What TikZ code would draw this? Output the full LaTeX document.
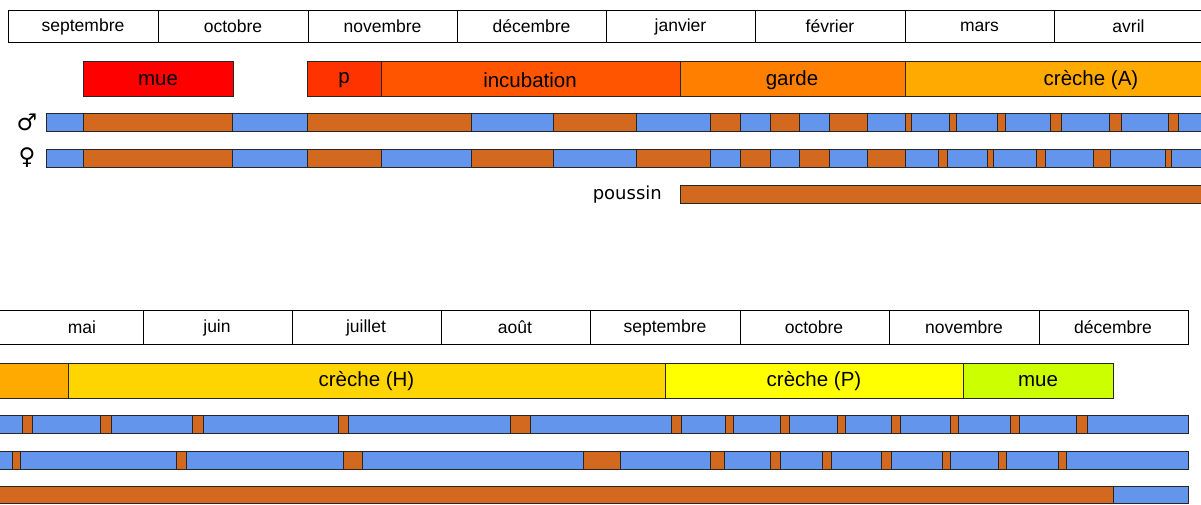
\documentclass[tikz,border=0pt]{standalone}
\usepackage{fontspec}
\setmainfont{Liberation Sans}
\newfontfamily\symfont{DejaVu Sans}
\definecolor{bleu}{HTML}{6495ED}
\definecolor{brun}{HTML}{D2691E}
\definecolor{rougeM}{HTML}{FF0000}
\definecolor{rougeP}{HTML}{FF3300}
\definecolor{orInc}{HTML}{FF5500}
\definecolor{orGar}{HTML}{FF8000}
\definecolor{crA}{HTML}{FFAA00}
\definecolor{crH}{HTML}{FFD500}
\definecolor{crP}{HTML}{FFFF00}
\definecolor{mueB}{HTML}{CCFF00}

\newcommand\barre[3]{%
  \foreach \a/\b/\c in {#3}
    \draw[seg,fill=\c] (\a,#1) rectangle (\b,#2);}

\begin{document}
\begin{tikzpicture}[x=1pt,y=-1pt,
  cal/.style={draw=black,line width=0.8pt,fill=white},
  seg/.style={draw=black!85,line width=0.9pt},
  mois/.style={font=\fontsize{17.5}{19}\selectfont,inner sep=0pt},
  phase/.style={font=\fontsize{20.5}{22}\selectfont,inner sep=0pt},
  sexe/.style={font=\symfont\fontsize{23}{24}\selectfont,inner sep=0pt}]
\useasboundingbox (0,0) rectangle (1201,504);

% premiere annee
\foreach \a/\b/\t [count=\i] in {8/158/septembre,158/308/octobre,308/457/novembre,
    457/606/décembre,606/755/janvier,755/905/février,905/1054/mars,1054/1203/avril}{
  \draw[cal] (\a,10) rectangle (\b,42);
  \node[mois] (mh\i) at ({(\a+\b)/2},26.5) {\t};
}
\foreach \a/\b/\c/\t/\x [count=\i] in {83/233/rougeM/mue/158,307/381/rougeP/p/344,
    381/680/orInc/incubation/530,680/905/orGar/garde/792,905/1277/crA/crèche (A)/1091}{
  \draw[seg,fill=\c] (\a,61) rectangle (\b,96);
  \node[phase] (ph\i) at (\x,80.5) {\t};
}
\node[sexe] (male) at (27,122) {♂};
\node[sexe] (femelle) at (27,158) {♀};
\barre{113}{131}{46/83/bleu,83/232/brun,232/307/bleu,307/471/brun,471/553/bleu,
  553/636/brun,636/710/bleu,710/740/brun,740/770/bleu,770/799/brun,799/829/bleu,
  829/867/brun,867/905/bleu,905/911/brun,911/949/bleu,949/956/brun,956/997/bleu,
  997/1005/brun,1005/1050/bleu,1050/1061/brun,1061/1109/bleu,1109/1121/brun,
  1121/1168/bleu,1168/1178/brun,1178/1206/bleu}
\barre{149}{167}{46/83/bleu,83/232/brun,232/307/bleu,307/381/brun,381/471/bleu,
  471/553/brun,553/636/bleu,636/710/brun,710/740/bleu,740/770/brun,770/799/bleu,
  799/829/brun,829/867/bleu,867/905/brun,905/938/bleu,938/947/brun,947/987/bleu,
  987/993/brun,993/1036/bleu,1036/1045/brun,1045/1093/bleu,1093/1110/brun,
  1110/1165/bleu,1165/1171/brun,1171/1206/bleu}
\node[font=\symfont\fontsize{18}{20}\selectfont,inner sep=0pt,anchor=east]
  (poussin) at (662,194.5) {poussin};
\barre{185}{203}{680/1206/brun}

% seconde annee
\foreach \a/\b/\t/\x [count=\i] in {-6/143/mai/82,143/292/juin/217,292/441/juillet/366,
    441/590/août/515,590/740/septembre/665,740/889/octobre/814,889/1039/novembre/964,
    1039/1188/décembre/1113}{
  \draw[cal] (\a,310) rectangle (\b,344);
  \node[mois] (mb\i) at (\x,327.5) {\t};
}
\draw[seg,fill=crA] (-6,363) rectangle (68,398);
\foreach \a/\b/\c/\t [count=\i] in {68/665/crH/crèche (H),665/963/crP/crèche (P),
    963/1113/mueB/mue}{
  \draw[seg,fill=\c] (\a,363) rectangle (\b,398);
  \node[phase] (pb\i) at ({(\a+\b)/2},381.5) {\t};
}
\barre{415}{433}{-5/22/bleu,22/32/brun,32/100/bleu,100/111/brun,111/192/bleu,
  192/203/brun,203/338/bleu,338/348/brun,348/510/bleu,510/530/brun,530/671/bleu,
  671/681/brun,681/725/bleu,725/733/brun,733/780/bleu,780/789/brun,789/837/bleu,
  837/845/brun,845/891/bleu,891/900/brun,900/950/bleu,950/958/brun,958/1010/bleu,
  1010/1019/brun,1019/1076/bleu,1076/1087/brun,1087/1188/bleu}
\barre{451}{469}{-5/12/bleu,12/20/brun,20/176/bleu,176/186/brun,186/343/bleu,
  343/362/brun,362/583/bleu,583/620/brun,620/710/bleu,710/724/brun,724/770/bleu,
  770/780/brun,780/822/bleu,822/831/brun,831/881/bleu,881/891/brun,891/942/bleu,
  942/950/brun,950/998/bleu,998/1006/brun,1006/1058/bleu,1058/1066/brun,
  1066/1188/bleu}
\barre{486}{503}{-5/1113/brun,1113/1188/bleu}
\end{tikzpicture}
\end{document}
